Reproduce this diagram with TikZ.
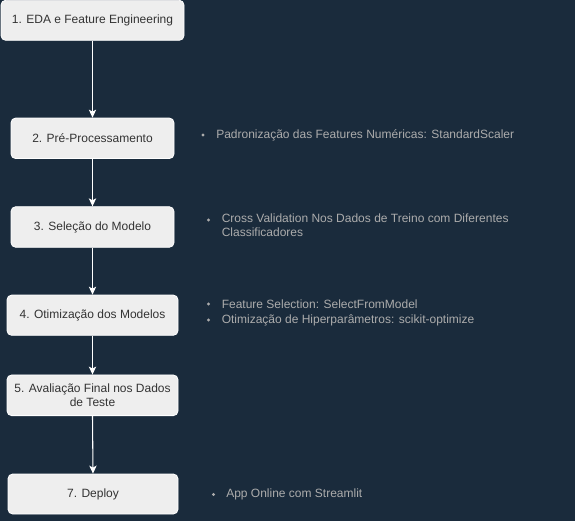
\documentclass[tikz,border=0pt]{standalone}
\usepackage{fontspec}
\setmainfont{Liberation Sans}
\usetikzlibrary{arrows.meta}
\definecolor{bg}{RGB}{26,43,60}
\definecolor{boxfill}{RGB}{238,238,238}
\definecolor{boxtext}{RGB}{51,51,51}
\definecolor{note}{RGB}{172,172,172}
\begin{document}
\begin{tikzpicture}[x=0.75pt,y=-0.75pt,
  stepbox/.style={draw=white,line width=0.6pt,fill=boxfill,rounded corners=3.5pt,
    text=boxtext,font=\fontsize{9pt}{10.5pt}\selectfont,align=center,inner sep=0pt},
  flow/.style={draw=white,line width=0.8pt,-{Stealth[length=6pt,width=5.5pt,inset=1.5pt]}},
  notetext/.style={text=note,font=\fontsize{9pt}{10.5pt}\selectfont,align=left,inner sep=0pt},
  dot/.style={circle,fill=note,inner sep=0pt,minimum size=2.6pt}]
\useasboundingbox[fill=bg] (0,0) rectangle (575,521);
\node[stepbox,minimum width=137.25pt,minimum height=30pt] (b1) at (92.5,20.3) {1. EDA e Feature Engineering};
\node[stepbox,minimum width=122.25pt,minimum height=30.4pt] (b2) at (92.5,138.3) {2. Pré-Processamento};
\node[stepbox,minimum width=122.25pt,minimum height=30.4pt] (b3) at (92.5,227) {3. Seleção do Modelo};
\node[stepbox,minimum width=128.25pt,minimum height=30.2pt] (b4) at (92.5,315.2) {4. Otimização dos Modelos};
\node[stepbox,minimum width=128.25pt,minimum height=30.5pt] (b5) at (92.5,395.3) {5. Avaliação Final nos Dados\\de Teste};
\node[stepbox,minimum width=127.5pt,minimum height=30pt] (b7) at (93,494) {7. Deploy};
\draw[flow] (b1.south) -- (b2.north);
\draw[flow] (b2.south) -- (b3.north);
\draw[flow] (b3.south) -- (b4.north);
\draw[flow] (b4.south) -- (b5.north);
\draw[flow] (b5.south) -- (b7.north);
% notes
\node[dot] (d1) at (203,135) {};
\node[notetext,anchor=west] (t1) at (216,135) {Padronização das Features Numéricas: StandardScaler};
\node[dot] (d2) at (208.5,220) {};
\node[notetext,anchor=north west] (t2) at (221.5,213.5) {Cross Validation Nos Dados de Treino com Diferentes\\Classificadores};
\node[dot] (d3) at (208.5,304) {};
\node[notetext,anchor=west] (t3) at (221.5,304) {Feature Selection: SelectFromModel};
\node[dot] (d4) at (208.5,320) {};
\node[notetext,anchor=west] (t4) at (221.5,320) {Otimização de Hiperparâmetros: scikit-optimize};
\node[dot] (d5) at (213.5,494.5) {};
\node[notetext,anchor=west] (t5) at (226,494) {App Online com Streamlit};
\end{tikzpicture}
\end{document}
